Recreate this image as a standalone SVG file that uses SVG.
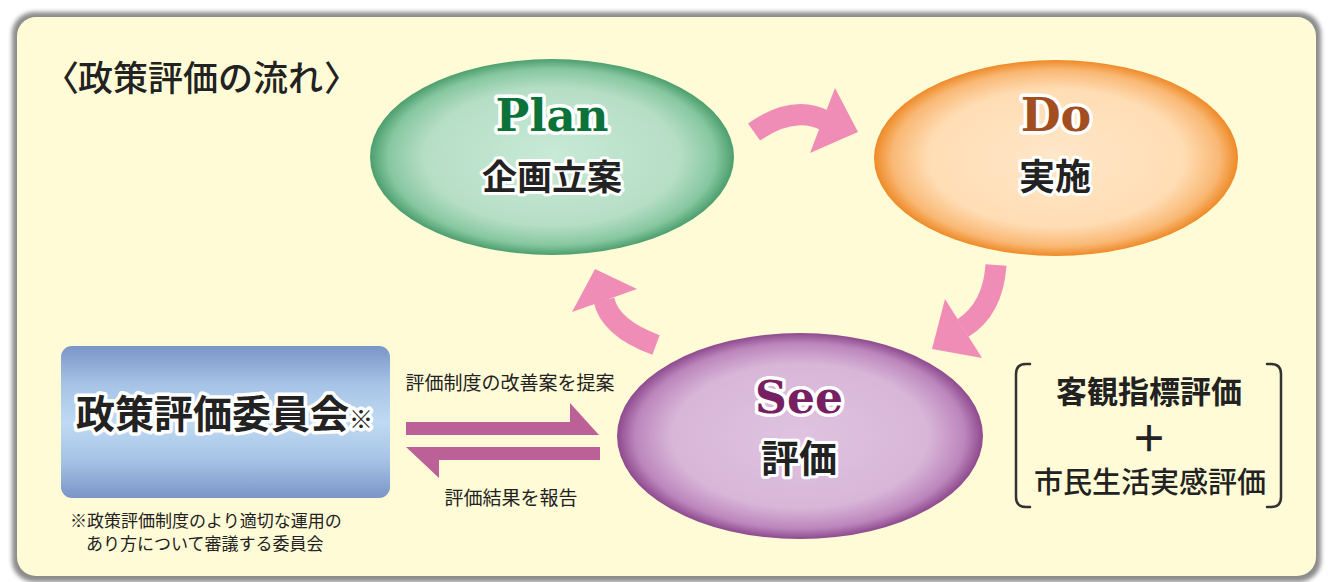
<svg xmlns="http://www.w3.org/2000/svg" width="1329" height="582" viewBox="0 0 1329 582">
<defs>
<style>
.jp{font-family:"Noto Sans CJK JP","Noto Sans",sans-serif;fill:#222}
.ol{paint-order:stroke;stroke:#fff;stroke-width:6;stroke-linejoin:round}
.en{font-family:"DejaVu Serif","Liberation Serif",serif;font-weight:bold;paint-order:stroke;stroke:#fff;stroke-width:7;stroke-linejoin:round}
.pink{fill:#F08DB6}
.band{fill:none;stroke:#F08DB6;stroke-width:21}
.mag{fill:#BC6098}
.brk{fill:none;stroke:#333;stroke-width:2.5;stroke-linecap:round}
</style>
<radialGradient id="gPlan" cx="0.5" cy="0.5" r="0.5">
<stop offset="0" stop-color="#C8EAD6"/><stop offset="0.7" stop-color="#B6DEC5"/><stop offset="0.9" stop-color="#86C7A0"/><stop offset="1" stop-color="#4C9E6E"/>
</radialGradient>
<radialGradient id="gDo" cx="0.5" cy="0.5" r="0.5">
<stop offset="0" stop-color="#FFE7C9"/><stop offset="0.7" stop-color="#FFDDB4"/><stop offset="0.9" stop-color="#F9B874"/><stop offset="1" stop-color="#EE8A28"/>
</radialGradient>
<radialGradient id="gSee" cx="0.5" cy="0.5" r="0.5">
<stop offset="0" stop-color="#DFC3E0"/><stop offset="0.7" stop-color="#D8B6D8"/><stop offset="0.9" stop-color="#BC86BC"/><stop offset="1" stop-color="#8E4A8E"/>
</radialGradient>
<linearGradient id="gBox" x1="0" y1="0" x2="0" y2="1">
<stop offset="0" stop-color="#7A95C8"/><stop offset="0.25" stop-color="#A6C3E6"/><stop offset="0.5" stop-color="#BFDAF2"/><stop offset="0.75" stop-color="#A6C3E6"/><stop offset="1" stop-color="#7A95C8"/>
</linearGradient>
<filter id="sh" x="-5%" y="-5%" width="110%" height="110%"><feGaussianBlur stdDeviation="2"/></filter>
</defs>
<rect width="1329" height="582" fill="#fff"/>
<rect x="12" y="12" width="1309" height="570" rx="22" fill="#8c8c8c" filter="url(#sh)"/>
<rect x="17" y="17" width="1299" height="559" rx="19" fill="#FFFBD6"/>
<text class="jp" font-size="35" font-weight="500" y="91"><tspan x="44">〈</tspan><tspan x="78">政策評価の流れ</tspan><tspan x="324">〉</tspan></text>

<g id="connectors">
<path class="band" d="M754 132 Q794 104 826 121"/>
<polygon class="pink" points="835,88 858,132 810,153"/>
<path class="band" d="M996 265 Q993 309 963 328"/>
<polygon class="pink" points="945,299 982,358 932,349"/>
<path class="band" d="M656 345 Q610 328 604 300"/>
<polygon class="pink" points="572,312 637,289 595,269"/>
<polygon class="mag" points="406,422 570,422 570,403 599,435 406,435"/>
<polygon class="mag" points="600,447 406,447 439,478 439,460 600,460"/>
<text class="jp" font-size="19" x="510" y="390" text-anchor="middle" fill="#333">評価制度の改善案を提案</text>
<text class="jp" font-size="19" x="511" y="505" text-anchor="middle" fill="#333">評価結果を報告</text>
</g>

<g id="plan">
<ellipse cx="552" cy="157" rx="182" ry="98" fill="url(#gPlan)"/>
<text class="en" font-size="45" x="552" y="131" text-anchor="middle" fill="#0B7339">Plan</text>
<text class="jp ol" font-size="35" font-weight="bold" x="552" y="190" text-anchor="middle">企画立案</text>
</g>
<g id="do">
<ellipse cx="1056" cy="158" rx="182" ry="98" fill="url(#gDo)"/>
<text class="en" font-size="46" x="1056" y="131" text-anchor="middle" fill="#A24E1F">Do</text>
<text class="jp ol" font-size="36" font-weight="bold" x="1055" y="190" text-anchor="middle">実施</text>
</g>
<g id="see">
<ellipse cx="800" cy="436" rx="183" ry="103" fill="url(#gSee)"/>
<text class="en" font-size="44" x="799" y="413" text-anchor="middle" fill="#761F63">See</text>
<text class="jp ol" font-size="38" font-weight="bold" x="799" y="472" text-anchor="middle">評価</text>
</g>
<g id="committee">
<rect x="61" y="346" width="329" height="152" rx="11" fill="url(#gBox)"/>
<text class="jp ol" font-size="39" font-weight="bold" x="76" y="428" style="stroke-width:7">政策評価委員会<tspan font-size="24" font-weight="normal">※</tspan></text>
<text class="jp" font-size="17" x="70" y="527" fill="#333">※政策評価制度のより適切な運用の</text>
<text class="jp" font-size="17" x="86" y="550" fill="#333">あり方について審議する委員会</text>
</g>
<g id="evaluation-methods">
<path class="brk" d="M1030 364 H1026 Q1016 364 1016 374 V497 Q1016 507 1026 507 H1030"/>
<path class="brk" d="M1267 364 H1271 Q1281 364 1281 374 V497 Q1281 507 1271 507 H1267"/>
<text class="jp" font-size="31" font-weight="bold" x="1149" y="403" text-anchor="middle">客観指標評価</text>
<text class="jp" font-size="36" font-weight="bold" x="1149" y="452" text-anchor="middle">＋</text>
<text class="jp" font-size="29" font-weight="500" x="1150" y="493" text-anchor="middle">市民生活実感評価</text>
</g>
</svg>
